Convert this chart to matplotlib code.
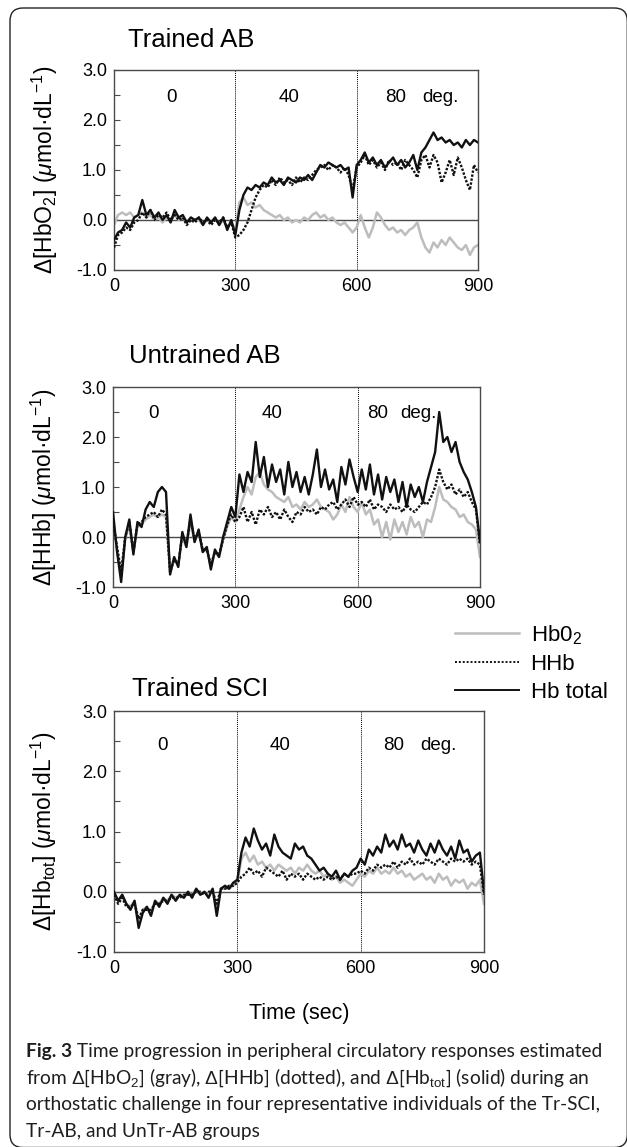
import numpy as np
import matplotlib.pyplot as plt
from matplotlib.lines import Line2D
from matplotlib.patches import FancyBboxPatch
from matplotlib.transforms import IdentityTransform

plt.rcParams['font.family'] = ['Liberation Sans', 'DejaVu Sans']
plt.rcParams['mathtext.fontset'] = 'custom'
plt.rcParams['mathtext.rm'] = 'Liberation Sans'
plt.rcParams['mathtext.it'] = 'Liberation Sans:italic'
plt.rcParams['mathtext.bf'] = 'Liberation Sans:bold'
plt.rcParams['axes.unicode_minus'] = False

# sample times (sec)
time_s = np.arange(0, 901, 10)

# --- Trained AB ---
tab_o2 = [-0.10, 0.10, 0.15, 0.10, 0.15, 0.05, 0.10, 0.15, 0.05, 0.10,
          0.00, 0.05, -0.05, 0.05, 0.00, 0.10, 0.00, 0.05, -0.05, 0.05,
          0.00, 0.00, -0.10, 0.00, -0.05, 0.05, -0.10, 0.00, -0.15, -0.05,
          -0.20, 0.35, 0.45, 0.30, 0.35, 0.25, 0.30, 0.20, 0.15, 0.10,
          0.05, 0.10, 0.00, 0.05, -0.05, 0.00, -0.05, 0.05, 0.00, 0.10,
          0.15, 0.05, 0.10, 0.00, 0.05, -0.05, -0.10, -0.05, -0.15, -0.25,
          -0.15, 0.10, -0.15, -0.35, -0.15, 0.15, 0.05, -0.10, -0.20, -0.15,
          -0.25, -0.20, -0.30, -0.20, -0.15, -0.05, -0.35, -0.55, -0.65, -0.45,
          -0.55, -0.40, -0.50, -0.35, -0.45, -0.55, -0.60, -0.50, -0.70, -0.55,
          -0.50]
tab_hhb = [-0.55, -0.30, -0.25, -0.15, -0.20, -0.05, 0.00, 0.15, 0.05, 0.20,
           0.00, 0.10, 0.05, 0.15, 0.00, 0.10, 0.00, 0.05, -0.10, 0.00,
           -0.05, 0.05, -0.05, 0.00, -0.10, 0.00, -0.05, 0.05, -0.15, -0.05,
           -0.35, -0.30, -0.20, -0.05, 0.20, 0.45, 0.60, 0.70, 0.65, 0.80,
           0.70, 0.85, 0.75, 0.80, 0.70, 0.85, 0.75, 0.85, 0.80, 0.90,
           1.00, 1.05, 1.10, 1.00, 1.10, 1.05, 0.95, 1.05, 0.90, 0.60,
           1.05, 1.15, 1.30, 1.10, 1.20, 1.05, 1.15, 1.00, 1.20, 1.10,
           1.15, 1.00, 1.20, 1.10, 1.00, 0.85, 1.20, 1.30, 1.05, 1.30,
           1.15, 0.75, 0.95, 1.20, 0.90, 1.25, 1.05, 0.80, 0.60, 1.10,
           0.95]
tab_tot = [-0.40, -0.25, -0.20, -0.05, -0.15, 0.05, 0.10, 0.40, 0.10, 0.20,
           0.05, 0.15, 0.00, 0.10, -0.05, 0.20, 0.05, 0.10, -0.05, 0.05,
           0.00, 0.05, -0.10, 0.05, -0.05, 0.05, -0.10, 0.05, -0.20, 0.00,
           -0.30, 0.20, 0.50, 0.65, 0.60, 0.70, 0.65, 0.75, 0.70, 0.85,
           0.75, 0.80, 0.70, 0.85, 0.80, 0.75, 0.85, 0.80, 0.90, 0.80,
           0.95, 1.10, 1.05, 1.15, 1.10, 1.05, 1.10, 1.00, 1.05, 0.45,
           1.10, 1.20, 1.35, 1.15, 1.25, 1.10, 1.20, 1.05, 1.15, 1.25,
           1.10, 1.20, 1.05, 1.15, 1.30, 1.00, 1.35, 1.45, 1.60, 1.75,
           1.60, 1.65, 1.55, 1.60, 1.50, 1.55, 1.45, 1.60, 1.50, 1.60,
           1.55]

# --- Untrained AB ---
ut_o2 = [0.30, -0.25, -0.80, -0.05, 0.25, -0.30, 0.20, 0.25, 0.35, 0.40,
         0.45, 0.40, 0.45, 0.40, -0.70, -0.45, -0.55, 0.00, -0.20, 0.30,
         -0.10, 0.10, -0.30, -0.25, -0.60, -0.30, -0.40, -0.05, 0.20, 0.40,
         0.30, 0.55, 0.80, 1.00, 0.85, 1.20, 1.30, 1.05, 0.95, 0.90,
         0.80, 0.75, 0.70, 0.80, 0.60, 0.65, 0.55, 0.70, 0.60, 0.65,
         0.75, 0.60, 0.55, 0.50, 0.35, 0.45, 0.65, 0.50, 0.80, 0.60,
         0.50, 0.70, 0.45, 0.55, 0.25, 0.35, 0.00, 0.30, -0.05, 0.35,
         0.10, 0.30, 0.05, 0.40, 0.20, 0.30, 0.00, 0.35, 0.30, 0.60,
         1.00, 0.75, 0.70, 0.60, 0.55, 0.40, 0.45, 0.30, 0.25, 0.15,
         -0.40]
ut_hhb = [0.30, -0.20, -0.70, 0.00, 0.30, -0.30, 0.25, 0.30, 0.40, 0.45,
          0.50, 0.40, 0.55, 0.45, -0.70, -0.45, -0.55, 0.05, -0.15, 0.35,
          -0.05, 0.10, -0.25, -0.25, -0.55, -0.30, -0.35, -0.05, 0.25, 0.45,
          0.30, 0.40, 0.60, 0.30, 0.50, 0.25, 0.55, 0.45, 0.60, 0.40,
          0.50, 0.35, 0.55, 0.40, 0.30, 0.50, 0.45, 0.60, 0.50, 0.55,
          0.45, 0.60, 0.55, 0.65, 0.70, 0.55, 0.65, 0.75, 0.60, 0.80,
          0.65, 0.70, 0.60, 0.75, 0.55, 0.65, 0.60, 0.50, 0.65, 0.55,
          0.60, 0.50, 0.65, 0.55, 0.50, 0.60, 0.70, 0.65, 0.80, 1.00,
          1.35, 1.10, 0.95, 1.05, 0.85, 0.95, 0.80, 0.90, 0.70, 0.55,
          -0.15]
ut_tot = [0.50, -0.30, -0.90, 0.00, 0.35, -0.35, 0.30, 0.20, 0.55, 0.70,
          0.60, 0.90, 1.00, 0.90, -0.75, -0.40, -0.60, 0.10, -0.20, 0.45,
          -0.10, 0.15, -0.30, -0.20, -0.65, -0.25, -0.40, 0.00, 0.30, 0.60,
          0.40, 1.25, 0.90, 1.30, 1.10, 1.90, 1.20, 1.60, 1.00, 1.45,
          1.10, 1.35, 0.85, 1.50, 1.00, 1.30, 0.90, 1.20, 0.85, 1.25,
          1.75, 1.00, 1.35, 0.95, 1.15, 0.70, 1.40, 1.05, 1.55, 1.20,
          0.90, 1.35, 0.95, 1.45, 0.85, 1.25, 0.75, 1.20, 0.90, 1.15,
          0.70, 1.10, 0.60, 1.05, 0.80, 1.00, 0.70, 1.10, 1.40, 1.70,
          2.50, 1.90, 2.00, 1.70, 1.90, 1.50, 1.30, 1.15, 0.90, 0.60,
          -0.10]

# --- Trained SCI ---
sci_o2 = [0.00, -0.15, -0.05, -0.20, -0.25, -0.15, -0.50, -0.30, -0.25, -0.35,
          -0.15, -0.20, -0.10, -0.15, -0.05, -0.10, -0.05, -0.10, 0.00, -0.05,
          0.05, -0.05, 0.00, -0.05, 0.05, -0.30, 0.05, 0.05, 0.05, 0.10,
          0.15, 0.55, 0.65, 0.50, 0.60, 0.45, 0.50, 0.40, 0.45, 0.35,
          0.45, 0.40, 0.35, 0.40, 0.30, 0.40, 0.35, 0.45, 0.35, 0.30,
          0.35, 0.25, 0.30, 0.20, 0.25, 0.15, 0.20, 0.15, 0.10, 0.20,
          0.30, 0.25, 0.35, 0.30, 0.40, 0.30, 0.35, 0.30, 0.40, 0.30,
          0.35, 0.25, 0.30, 0.20, 0.25, 0.30, 0.20, 0.25, 0.15, 0.30,
          0.20, 0.25, 0.10, 0.20, 0.15, 0.20, 0.05, 0.15, 0.10, 0.20,
          -0.20]
sci_hhb = [-0.05, -0.20, -0.10, -0.25, -0.25, -0.20, -0.45, -0.30, -0.30, -0.30,
           -0.20, -0.20, -0.15, -0.15, -0.10, -0.10, -0.10, -0.05, -0.05, -0.05,
           0.00, 0.00, -0.05, 0.00, 0.00, -0.20, 0.05, 0.05, 0.10, 0.10,
           0.15, 0.25, 0.30, 0.40, 0.30, 0.35, 0.25, 0.40, 0.35, 0.30,
           0.25, 0.35, 0.20, 0.30, 0.25, 0.30, 0.20, 0.30, 0.25, 0.20,
           0.25, 0.20, 0.25, 0.20, 0.25, 0.20, 0.30, 0.25, 0.30, 0.30,
           0.35, 0.30, 0.40, 0.35, 0.45, 0.40, 0.45, 0.40, 0.50, 0.40,
           0.50, 0.45, 0.55, 0.45, 0.50, 0.45, 0.55, 0.50, 0.45, 0.55,
           0.50, 0.45, 0.55, 0.50, 0.55, 0.50, 0.55, 0.45, 0.50, 0.45,
           -0.05]
sci_tot = [0.00, -0.15, -0.05, -0.20, -0.30, -0.15, -0.60, -0.35, -0.25, -0.40,
           -0.15, -0.25, -0.10, -0.20, -0.05, -0.15, -0.05, -0.10, 0.00, -0.10,
           0.05, -0.05, 0.00, -0.10, 0.05, -0.40, 0.05, 0.10, 0.05, 0.15,
           0.20, 0.65, 0.90, 0.75, 1.05, 0.85, 0.70, 0.80, 0.60, 0.95,
           0.75, 0.65, 0.60, 0.55, 0.80, 0.70, 0.75, 0.60, 0.55, 0.45,
           0.35, 0.40, 0.30, 0.25, 0.35, 0.20, 0.30, 0.25, 0.35, 0.40,
           0.55, 0.45, 0.70, 0.60, 0.75, 0.65, 0.95, 0.75, 0.85, 0.70,
           0.95, 0.75, 0.80, 0.65, 0.85, 0.70, 0.60, 0.80, 0.65, 0.85,
           0.70, 0.60, 0.75, 0.55, 0.85, 0.65, 0.70, 0.50, 0.60, 0.65,
           0.00]

titles = ["Trained AB", "Untrained AB", "Trained SCI"]
ylabels = [r"Δ[HbO$_2$] ($\mu$mol·dL$^{-1}$)",
           r"Δ[HHb] ($\mu$mol·dL$^{-1}$)",
           r"Δ[Hb$_\mathrm{tot}$] ($\mu$mol·dL$^{-1}$)"]
stage_labels = ["0", "40", "80", "deg."]
legend_labels = ["Hb0$_2$", "HHb", "Hb total"]
yticks = [-1, 0, 1, 2, 3]
ytick_labels = ["-1.0", "0.0", "1.0", "2.0", "3.0"]
xticks = [0, 300, 600, 900]

W, H = 627, 1147
fig = plt.figure(figsize=(W / 100, H / 100), dpi=100)


def px_rect(l, t, r, b):
    return [l / W, 1 - b / H, (r - l) / W, (b - t) / H]


# layout in pixels: axes box, title pos, stage label x (data) and y
layout = [
    dict(box=(114, 70, 478, 270), title=(128, 47), stage_x=[141, 433, 697, 806], stage_y=2.45),
    dict(box=(113, 387, 480, 587), title=(129, 363), stage_x=[100, 390, 650, 748], stage_y=2.48),
    dict(box=(114, 711, 484, 952), title=(132, 696), stage_x=[117, 404, 681, 788], stage_y=2.43),
]
series = [(tab_o2, tab_hhb, tab_tot), (ut_o2, ut_hhb, ut_tot), (sci_o2, sci_hhb, sci_tot)]

gray = '#bdbdbd'
black = '#111111'
spine_c = '#4a4a4a'
dots = (0, (1.0, 0.7))

for i, lay in enumerate(layout):
    ax = fig.add_axes(px_rect(*lay['box']))
    o2, hhb, tot = series[i]
    ax.axhline(0, color=spine_c, lw=1.0, zorder=1)
    for xv in (300, 600):
        ax.axvline(xv, color='k', ls=(0, (1, 1)), lw=0.7, zorder=1)
    ax.plot(time_s, o2, color=gray, lw=1.8, zorder=2)
    ax.plot(time_s, hhb, color=black, lw=1.7, ls=dots, zorder=3)
    ax.plot(time_s, tot, color=black, lw=1.7, zorder=4)
    ax.set_xlim(0, 900)
    ax.set_ylim(-1, 3)
    ax.set_xticks(xticks)
    ax.set_xticklabels([str(v) for v in xticks])
    ax.set_yticks(yticks)
    ax.set_yticklabels(ytick_labels)
    ax.set_yticks([-0.5, 0.5, 1.5, 2.5], minor=True)
    ax.tick_params(axis='x', length=0, pad=6, labelsize=13)
    ax.tick_params(axis='y', which='both', direction='in', length=4, width=0.8,
                   color=spine_c, pad=5, labelsize=13)
    for sp in ax.spines.values():
        sp.set_color(spine_c)
        sp.set_linewidth(1.0)
    ax.set_ylabel(ylabels[i], fontsize=16.5)
    ax.yaxis.set_label_coords(-0.148, 0.5)
    for lab, xv in zip(stage_labels, lay['stage_x']):
        ax.text(xv, lay['stage_y'], lab, ha='center', va='center', fontsize=13.5)
    tx, ty = lay['title']
    fig.text(tx / W, 1 - ty / H, titles[i], fontsize=18.5, ha='left', va='baseline')

handles = [Line2D([], [], color=gray, lw=1.8),
           Line2D([], [], color=black, lw=1.4, ls=(0, (1, 1))),
           Line2D([], [], color=black, lw=1.4)]
fig.legend(handles=handles, labels=legend_labels, loc='upper left',
           bbox_to_anchor=(455 / W, 1 - 623 / H),
           frameon=False, fontsize=16, handlelength=2.9, handletextpad=0.5,
           labelspacing=0.32, borderpad=0, borderaxespad=0)

fig.text(299 / W, 1 - 1013 / H, 'Time (sec)', fontsize=15.5, ha='center', va='center')

# caption
cap_font = dict(family=['Lato', 'DejaVu Sans'], fontsize=13.8, color='#1e1e1e')
b = fig.text(26 / W, 1 - 1057 / H, 'Fig. 3', fontweight='bold', va='baseline', **cap_font)
fig.add_artist(plt.Annotation(' Time progression in peripheral circulatory responses estimated',
                              xy=(1, 0), xycoords=b, va='bottom', ha='left', **cap_font))
cap_lines = [r'from $\Delta$[HbO$_2$] (gray), $\Delta$[HHb] (dotted), and $\Delta$[Hb$_\mathrm{tot}$] (solid) during an',
             'orthostatic challenge in four representative individuals of the Tr-SCI,',
             'Tr-AB, and UnTr-AB groups']
for k, line in enumerate(cap_lines):
    fig.text(26 / W, 1 - (1083.5 + 26.5 * k) / H, line, va='baseline', **cap_font)

frame = FancyBboxPatch((10, -0.5), 617.3, 1139.5, boxstyle='round,pad=0,rounding_size=13',
                       fc='none', ec='#222222', lw=1.0, transform=IdentityTransform())
fig.add_artist(frame)

fig.savefig('out.png', dpi=100)
